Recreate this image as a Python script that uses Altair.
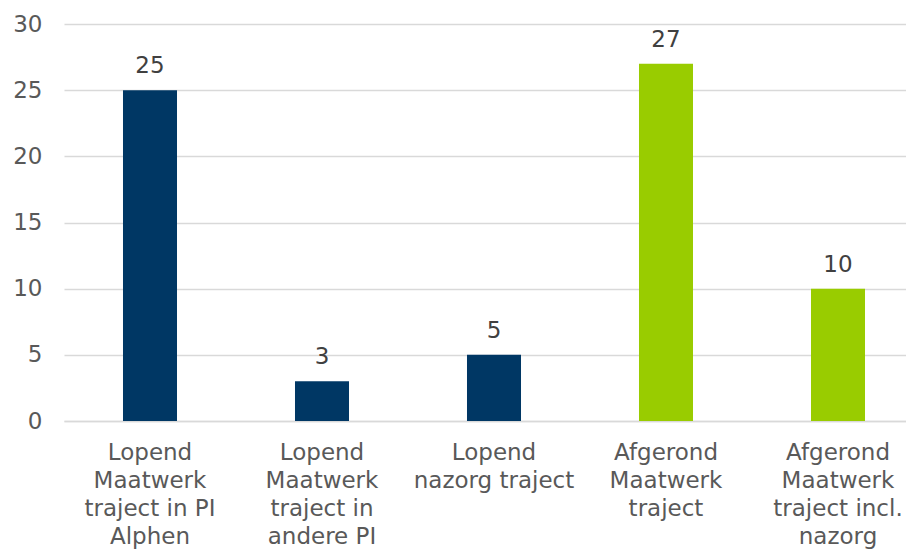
import altair as alt
import pandas as pd

categories = [
    "Lopend\nMaatwerk\ntraject in PI\nAlphen",
    "Lopend\nMaatwerk\ntraject in\nandere PI",
    "Lopend\nnazorg traject",
    "Afgerond\nMaatwerk\ntraject",
    "Afgerond\nMaatwerk\ntraject incl.\nnazorg",
]
values = [25, 3, 5, 27, 10]
groups = ["Lopend", "Lopend", "Lopend", "Afgerond", "Afgerond"]
y_ticks = [0, 5, 10, 15, 20, 25, 30]

df = pd.DataFrame({"cat": categories, "val": values, "grp": groups})

FONT = "DejaVu Sans"
FS = 23

x_enc = alt.X(
    "cat:N",
    sort=categories,
    title=None,
    scale=alt.Scale(range=[0, 860], paddingInner=0.686, paddingOuter=0.343),
    axis=alt.Axis(
        labelAngle=0,
        labelExpr="split(datum.label, '\\n')",
        labelFont=FONT,
        labelFontSize=FS,
        labelColor="#595959",
        labelLineHeight=28,
        labelBaseline="top",
        labelPadding=20,
        labelLimit=300,
        ticks=False,
        domainColor="#d9d9d9",
        domainWidth=1.5,
        grid=False,
    ),
)

y_scale = alt.Scale(domain=[0, 30], nice=False)

bars = alt.Chart(df).mark_bar().encode(
    x=x_enc,
    y=alt.Y(
        "val:Q",
        scale=y_scale,
        title=None,
        axis=alt.Axis(
            values=y_ticks,
            labelFont=FONT,
            labelFontSize=FS,
            labelColor="#595959",
            labelPadding=22,
            ticks=False,
            domain=False,
            gridColor="#d9d9d9",
            gridWidth=1.5,
        ),
    ),
    color=alt.Color(
        "grp:N",
        scale=alt.Scale(domain=["Lopend", "Afgerond"], range=["#003764", "#99cc00"]),
        legend=None,
    ),
)

labels = alt.Chart(df).mark_text(
    font=FONT, fontSize=FS, color="#404040", baseline="alphabetic", dy=-17
).encode(
    x=alt.X("cat:N", sort=categories),
    y=alt.Y("val:Q", scale=y_scale),
    text="val:Q",
)

chart = (
    alt.layer(bars, labels)
    .properties(
        width=842,
        height=397,
        background="white",
        autosize=alt.AutoSizeParams(type="none"),
        padding={"left": 56, "top": 16, "right": 0, "bottom": 140},
    )
    .configure_view(strokeWidth=0, stroke=None)
)

chart.save("out.html", embed_options={"renderer": "svg", "actions": False})
